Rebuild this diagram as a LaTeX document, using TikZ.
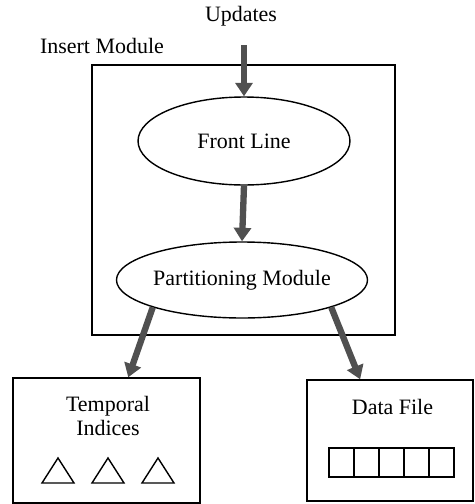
\documentclass[tikz,border=0pt]{standalone}
\usepackage{fontspec}
\setmainfont{Liberation Serif}
\usetikzlibrary{arrows.meta,shapes.geometric}

\definecolor{flechegris}{HTML}{505050}

\tikzset{
	boite/.style={draw, line width=0.8pt, inner sep=0pt},
	bulle/.style={draw, ellipse, line width=0.8pt, inner sep=0pt},
	fleche/.style={draw=flechegris, line width=3.6pt, -{Triangle[length=0.27cm,width=0.34cm]}},
}

\begin{document}
\begin{tikzpicture}[x=0.02cm, y=-0.02cm, font=\fontsize{12.5}{14.2}\selectfont]

		\useasboundingbox (0,0) rectangle (474,504);

		% Module d'insertion
		\node[boite, minimum width=6.06cm, minimum height=5.4cm] (insert) at (243.5,200) {};
		\node (insertlbl) at (102,46) {Insert Module};
		\node (upd) at (241,16) {Updates};
		\coordinate (updin) at (244,45);

		\node[bulle, minimum width=4.24cm, minimum height=1.76cm] (front) at (244,141) {Front Line};
		\node[bulle, minimum width=4.4cm, minimum height=1.52cm] (part) at (242,280) {Partitioning Module};

		% Les deux sorties
		\node[boite, minimum width=3.74cm, minimum height=2.5cm] (temp) at (106.5,440.5) {};
		\node[align=center] (templbl) at (108,416) {Temporal\\Indices};

		\node[boite, minimum width=3.32cm, minimum height=2.42cm] (data) at (390,440.5) {};
		\node (datalbl) at (392.5,407) {Data File};

		% Index (triangles)
		\foreach \x in {42,92,142}{
			\draw[line width=0.8pt] (\x,483) -- (\x+32,483) -- (\x+16,458) -- cycle;
		}

		% Blocs du fichier
		\def\cell{25}
		\foreach \i in {0,...,4}{
			\draw[line width=0.8pt] (329+\i*\cell,448) rectangle ++(\cell,29);
		}

		% Flux
		\draw[fleche] (updin) -- (front.north);
		\draw[fleche] (front.south) -- (part.north);
		\draw[fleche] (part.south west) -- (temp.71);
		\draw[fleche] (part.south east) -- (data.116);

\end{tikzpicture}
\end{document}
